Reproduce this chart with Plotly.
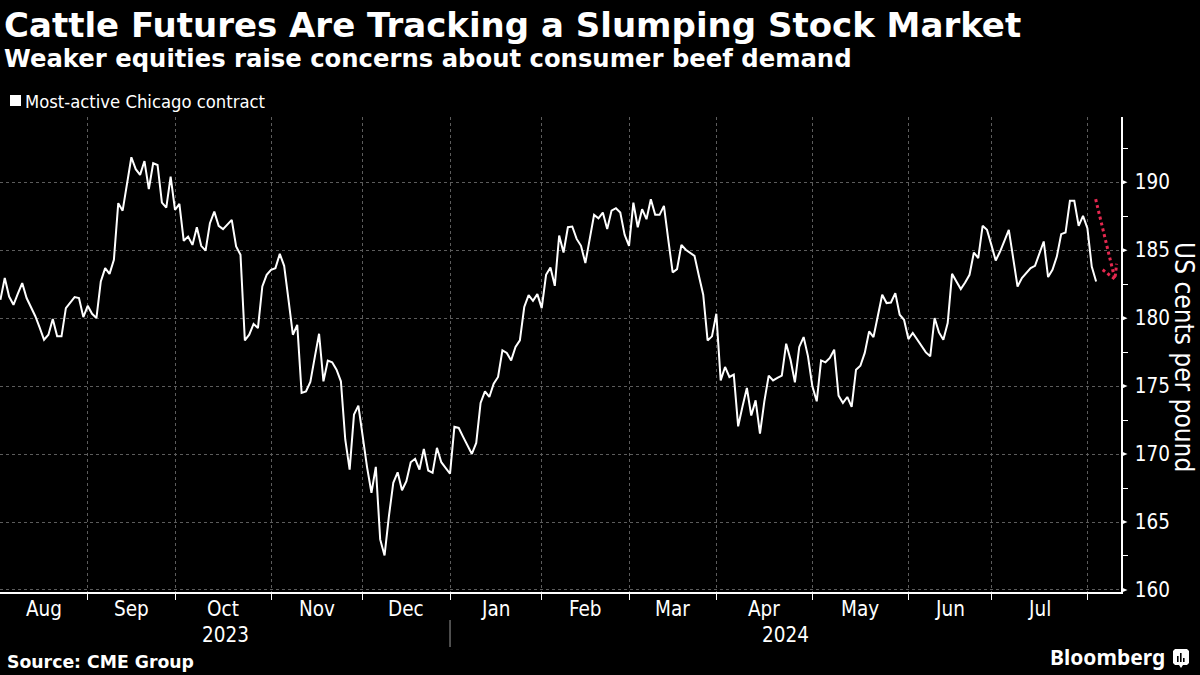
import pandas as pd
import plotly.graph_objects as go

# ---------------- data ----------------
START_DATE = "2023-08-04"
END_DATE = "2024-08-05"
CME_HOLIDAYS = ["2023-09-04", "2023-11-23", "2023-12-25", "2024-01-01", "2024-01-15",
                "2024-02-19", "2024-03-29", "2024-05-27", "2024-06-19", "2024-07-04"]

price = [
    181.35, 182.95, 181.59, 180.98, 181.8, 182.58, 181.48, 180.86, 180.14, 179.3,
    178.41, 178.78, 179.93, 178.66, 178.66, 180.74, 181.17, 181.55, 181.48, 180.08,
    180.91, 180.32, 180.01, 182.7, 183.68, 183.26, 184.29, 188.46, 187.91, 189.88,
    191.84, 190.96, 190.54, 191.56, 189.49, 191.4, 191.27, 188.5, 188.13, 190.41,
    187.96, 188.41, 185.69, 186.0, 185.39, 186.69, 185.32, 184.97, 186.99, 187.84,
    186.79, 186.55, 186.9, 187.23, 185.27, 184.66, 178.36, 178.78, 179.57, 179.27,
    182.33, 183.19, 183.56, 183.68, 184.73, 183.85, 181.35, 178.78, 179.51, 174.5,
    174.61, 175.3, 177.09, 178.85, 175.35, 176.87, 176.75, 176.21, 175.35, 171.07,
    168.86, 172.9, 173.56, 171.19, 169.02, 167.15, 169.06, 163.72, 162.54, 165.43,
    167.88, 168.66, 167.34, 168.0, 169.4, 169.65, 168.86, 170.38, 168.79, 168.62,
    170.46, 169.4, 168.97, 168.55, 172.0, 171.92, 171.26, 170.65, 170.01, 170.82,
    173.76, 174.61, 174.2, 175.18, 175.67, 177.63, 177.44, 176.89, 177.88, 178.36,
    180.82, 181.7, 181.28, 181.77, 180.74, 183.19, 183.73, 182.38, 186.08, 184.83,
    186.69, 186.74, 185.83, 185.32, 184.05, 185.83, 187.6, 187.35, 187.77, 186.55,
    187.91, 188.09, 187.77, 186.13, 185.32, 188.5, 186.69, 188.02, 187.28, 188.75,
    187.6, 187.6, 188.26, 185.76, 183.36, 183.61, 185.39, 185.03, 184.81, 184.58,
    183.12, 181.72, 178.36, 178.66, 180.32, 175.42, 176.41, 175.67, 175.84, 172.04,
    173.51, 174.86, 172.83, 173.95, 171.5, 173.88, 175.77, 175.42, 175.6, 175.77,
    178.12, 176.94, 175.28, 177.88, 178.61, 177.19, 174.98, 173.88, 176.89, 176.75,
    177.07, 177.68, 174.3, 173.76, 174.2, 173.47, 176.21, 176.5, 177.44, 179.02,
    178.61, 180.25, 181.72, 181.11, 181.15, 181.84, 180.25, 179.88, 178.46, 178.91,
    178.41, 177.88, 177.48, 177.19, 180.01, 178.95, 178.41, 179.64, 183.26, 182.7,
    182.14, 182.62, 183.19, 184.83, 184.42, 186.79, 186.5, 185.39, 184.24, 184.9,
    185.76, 186.5, 184.42, 182.33, 182.95, 183.31, 183.68, 183.85, 184.78, 185.64,
    183.02, 183.56, 184.53, 186.18, 186.3, 188.63, 188.63, 186.79, 187.52, 186.62,
    183.8, 182.7,
]

y_ticks = [160, 165, 170, 175, 180, 185, 190]
y_minor_ticks = [162.5, 167.5, 172.5, 177.5, 182.5, 187.5, 192.5]
month_names = ["Aug", "Sep", "Oct", "Nov", "Dec", "Jan", "Feb", "Mar", "Apr", "May", "Jun", "Jul"]
year_labels = ["2023", "2024"]

TITLE = "Cattle Futures Are Tracking a Slumping Stock Market"
SUBTITLE = "Weaker equities raise concerns about consumer beef demand"
SERIES_NAME = "Most-active Chicago contract"
Y_TITLE = "US cents per pound"
SOURCE = "Source: CME Group"

# ---------------- trading-day calendar ----------------
dates = [d for d in pd.bdate_range(START_DATE, END_DATE)
         if d.strftime("%Y-%m-%d") not in CME_HOLIDAYS]
dates = dates[:len(price)]
idx = list(range(len(dates)))
month_starts = [i for i in idx if i > 0 and dates[i].month != dates[i - 1].month]
year_start = [i for i in idx if i > 0 and dates[i].year != dates[i - 1].year][0]

X_RANGE = [-0.09, 256.7]
Y_RANGE = [159.85, 194.8]

# ---------------- layout geometry ----------------
W, H = 1200, 675
ML, MR, MT, MB = 0, 79, 117, 83
PW = W - ML - MR
PH = H - MT - MB
BOLD = "DejaVu Sans"
REG = "DejaVu Sans Condensed, DejaVu Sans"
GRID = "#5c5c5c"
RED = "#e4284f"


def px_x(px):
    return (px - ML) / PW


def px_y(py):
    return (H - MB - py) / PH


fig = go.Figure()
fig.add_trace(go.Scatter(
    x=idx, y=price, mode="lines", name=SERIES_NAME,
    customdata=[d.strftime("%b %d, %Y") for d in dates],
    hovertemplate="%{customdata}: %{y:.2f}<extra></extra>",
    line=dict(color="white", width=2),
))

annotations = []
shapes = []

# title, subtitle, legend
annotations.append(dict(text=f"<b>{TITLE}</b>", x=0, xref="paper", xanchor="left", xshift=2,
                        y=1, yref="paper", yanchor="middle", yshift=MT - 25,
                        showarrow=False, font=dict(family=BOLD, size=34, color="white")))
annotations.append(dict(text=f"<b>{SUBTITLE}</b>", x=0, xref="paper", xanchor="left", xshift=2,
                        y=1, yref="paper", yanchor="middle", yshift=MT - 58.5,
                        showarrow=False, font=dict(family=BOLD, size=24.3, color="white")))
annotations.append(dict(text=SERIES_NAME, x=px_x(23), xref="paper", xanchor="left",
                        y=1, yref="paper", yanchor="middle", yshift=MT - 101,
                        showarrow=False, font=dict(family=REG, size=18.3, color="white")))
shapes.append(dict(type="rect", xref="paper", yref="paper",
                   x0=px_x(10), x1=px_x(21), y0=px_y(106), y1=px_y(95),
                   fillcolor="white", line=dict(width=0)))

# month labels centred within each month
bounds = [X_RANGE[0]] + month_starts
for name, a, b in zip(month_names, bounds[:-1], bounds[1:]):
    annotations.append(dict(text=name, x=(a + b) / 2, xref="x", xanchor="center",
                            y=0, yref="paper", yanchor="middle", yshift=-17,
                            showarrow=False, font=dict(family=REG, size=20.5, color="white")))
# year labels
year_spans = [(X_RANGE[0], year_start), (year_start, X_RANGE[1])]
for lab, (a, b) in zip(year_labels, year_spans):
    annotations.append(dict(text=lab, x=(a + b) / 2, xref="x", xanchor="center",
                            y=0, yref="paper", yanchor="middle", yshift=-42.5,
                            showarrow=False, font=dict(family=REG, size=20.5, color="white")))
shapes.append(dict(type="line", xref="x", yref="paper", x0=year_start, x1=year_start,
                   y0=px_y(620), y1=px_y(647), line=dict(color="#9a9a9a", width=1)))

# y axis title (reads top to bottom)
annotations.append(dict(text=Y_TITLE, x=px_x(1184), xref="paper", xanchor="center",
                        y=px_y(357), yref="paper", yanchor="middle", textangle=90,
                        showarrow=False, font=dict(family=REG, size=26, color="white")))

# triangle markers at the major y ticks
for v in y_ticks:
    shapes.append(dict(type="path", xref="paper", xsizemode="pixel", xanchor=1,
                       yref="y", ysizemode="pixel", yanchor=v,
                       path="M0,-2.8 L6.5,0 L0,2.8 Z", fillcolor="white", line=dict(width=0)))

# red dotted arrow showing the recent drop
last = idx[-1]
arrow_path = (f"M{last - 0.1},188.75 L{last + 4.3},182.87 "
              f"M{last + 1.5},183.56 L{last + 4.3},182.87 L{last + 4.7},184.0")
shapes.append(dict(type="path", xref="x", yref="y", path=arrow_path,
                   line=dict(color=RED, width=3, dash="dot")))

# source and brand
annotations.append(dict(text=f"<b>{SOURCE}</b>", x=0, xref="paper", xanchor="left", xshift=5,
                        y=0, yref="paper", yanchor="middle", yshift=-(662 - (H - MB)),
                        showarrow=False, font=dict(family=BOLD, size=17.3, color="white")))
annotations.append(dict(text="<b>Bloomberg</b>", x=px_x(1167), xref="paper", xanchor="right",
                        y=0, yref="paper", yanchor="middle", yshift=-(657 - (H - MB)),
                        showarrow=False, font=dict(family="Noto Sans", size=21, color="white")))
# small logo glyph
shapes.append(dict(type="path", xref="paper", yref="paper",
                   path=(f"M{px_x(1175)},{px_y(649)} L{px_x(1187)},{px_y(649)} "
                         f"L{px_x(1189)},{px_y(651)} L{px_x(1189)},{px_y(663)} "
                         f"L{px_x(1187)},{px_y(665)} L{px_x(1183)},{px_y(665)} "
                         f"L{px_x(1181)},{px_y(668)} L{px_x(1179)},{px_y(665)} "
                         f"L{px_x(1175)},{px_y(665)} L{px_x(1173)},{px_y(663)} "
                         f"L{px_x(1173)},{px_y(651)} Z"),
                   fillcolor="white", line=dict(width=0)))
for bx, top in [(1177, 656), (1180, 653), (1183, 658)]:
    shapes.append(dict(type="rect", xref="paper", yref="paper",
                       x0=px_x(bx), x1=px_x(bx + 1.6), y0=px_y(662), y1=px_y(top),
                       fillcolor="black", line=dict(width=0)))

fig.update_layout(
    width=W, height=H,
    margin=dict(l=ML, r=MR, t=MT, b=MB),
    paper_bgcolor="black", plot_bgcolor="black",
    showlegend=False,
    font=dict(family=REG, color="white"),
    annotations=annotations,
    shapes=shapes,
    xaxis=dict(
        range=X_RANGE, tickmode="array", tickvals=month_starts, showticklabels=False,
        ticks="outside", ticklen=6, tickcolor="white", tickwidth=1,
        showgrid=True, gridcolor=GRID, griddash="dot", gridwidth=1,
        showline=True, linecolor="white", linewidth=1.5, zeroline=False,
    ),
    yaxis=dict(
        side="right", range=Y_RANGE, tickmode="array", tickvals=y_ticks,
        ticktext=[str(v) for v in y_ticks],
        ticks="outside", ticklen=8, tickcolor="rgba(0,0,0,0)",
        tickfont=dict(family=REG, size=20.5, color="white"),
        showgrid=True, gridcolor=GRID, griddash="dot", gridwidth=1,
        showline=True, linecolor="white", linewidth=1.5, zeroline=False,
        minor=dict(tickmode="array", tickvals=y_minor_ticks, ticks="outside",
                   ticklen=5, tickcolor="white", showgrid=False),
    ),
)

fig.write_html("out.html", config={"displayModeBar": False},
               post_script="document.body.style.margin='0';"
                           "document.body.style.padding='0';")
